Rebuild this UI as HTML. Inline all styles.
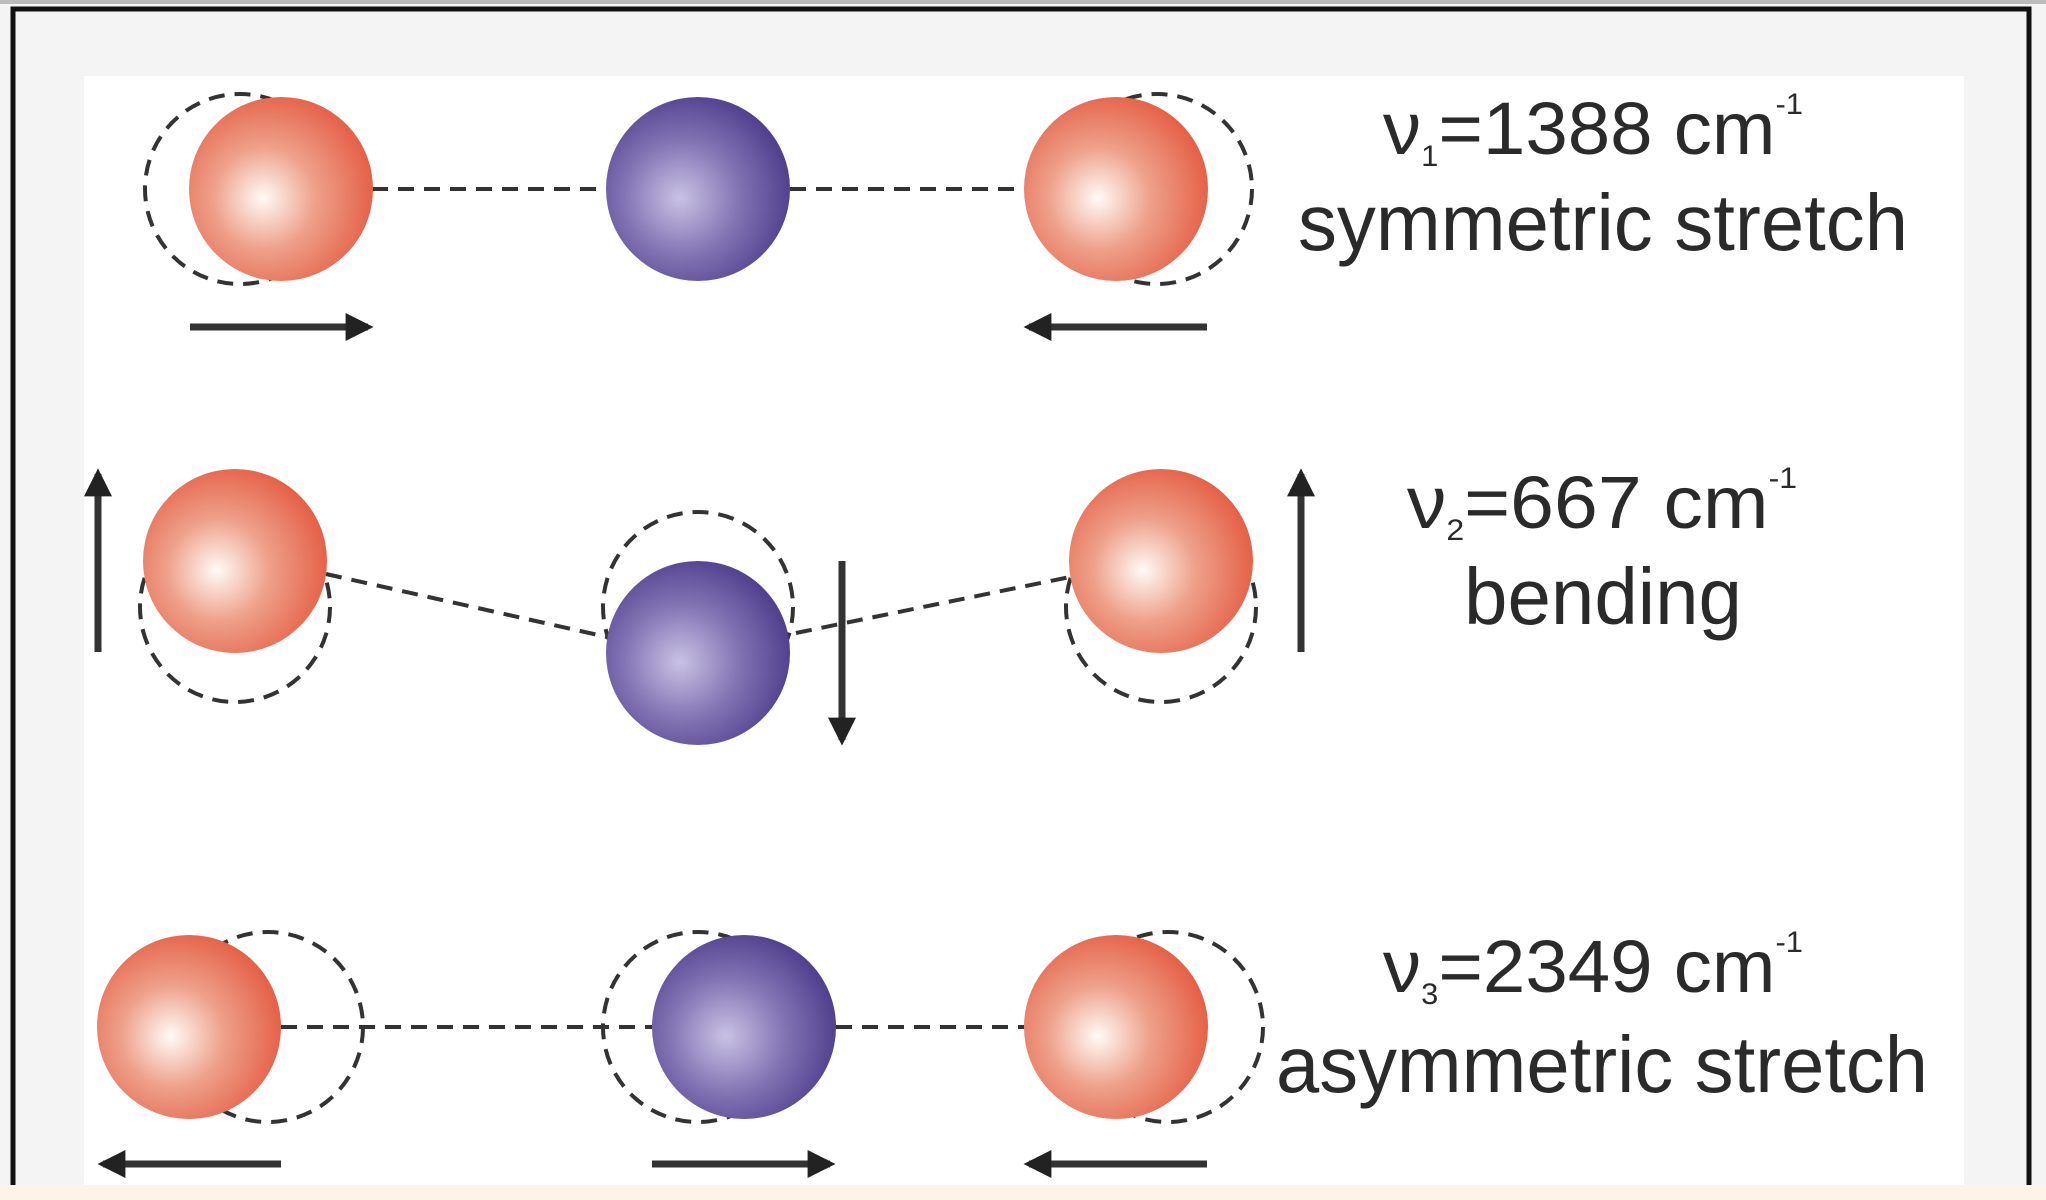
<!DOCTYPE html>
<html><head><meta charset="utf-8"><style>
html,body{margin:0;padding:0;background:#fdf3e6;}
svg{display:block}
text{font-family:"Liberation Sans",sans-serif;fill:#2a2a2a}
</style></head><body>
<svg width="2046" height="1200" viewBox="0 0 2046 1200" xmlns="http://www.w3.org/2000/svg">
<defs>
<radialGradient id="r" cx="0.42" cy="0.55" r="0.62" fx="0.4" fy="0.55">
<stop offset="0" stop-color="#fffaf6"/><stop offset="0.45" stop-color="#eea08a"/><stop offset="1" stop-color="#e45a40"/>
</radialGradient>
<radialGradient id="b" cx="0.42" cy="0.55" r="0.62" fx="0.4" fy="0.55">
<stop offset="0" stop-color="#c9c2e4"/><stop offset="0.5" stop-color="#8374b4"/><stop offset="1" stop-color="#4a3a8a"/>
</radialGradient>
<marker id="ah" viewBox="0 0 10 10" refX="8" refY="5" markerWidth="4" markerHeight="4" orient="auto-start-reverse">
<path d="M0,0 L10,5 L0,10 z" fill="#222"/>
</marker>
</defs>
<rect x="0" y="0" width="2046" height="1185" fill="#f4f4f4"/>
<rect x="0" y="0" width="2046" height="4" fill="#bbb"/>
<rect x="13" y="9" width="2016" height="1180" fill="none" stroke="#111" stroke-width="5"/>
<rect x="84" y="76" width="1880" height="1110" fill="#fff"/>
<rect x="0" y="1185" width="2046" height="15" fill="#fdf3e6"/>

<g stroke="#333" stroke-width="4" fill="none" stroke-dasharray="16,10">
<line x1="372" y1="189" x2="606" y2="189"/>
<line x1="790" y1="189" x2="1024" y2="189"/>
<circle cx="240" cy="189" r="95"/>
<circle cx="1157" cy="189" r="95"/>
<line x1="326" y1="574" x2="607" y2="637"/>
<line x1="796" y1="633" x2="1070" y2="577"/>
<circle cx="235" cy="607" r="95"/>
<circle cx="698" cy="607" r="95"/>
<circle cx="1161" cy="607" r="95"/>
<line x1="281" y1="1027" x2="652" y2="1027"/>
<line x1="836" y1="1027" x2="1024" y2="1027"/>
<circle cx="268" cy="1027" r="95"/>
<circle cx="698" cy="1027" r="95"/>
<circle cx="1168" cy="1027" r="95"/>
</g>

<circle cx="281" cy="189" r="92" fill="url(#r)"/>
<circle cx="698" cy="189" r="92" fill="url(#b)"/>
<circle cx="1116" cy="189" r="92" fill="url(#r)"/>

<circle cx="235" cy="561" r="92" fill="url(#r)"/>
<circle cx="698" cy="653" r="92" fill="url(#b)"/>
<circle cx="1161" cy="561" r="92" fill="url(#r)"/>

<circle cx="189" cy="1027" r="92" fill="url(#r)"/>
<circle cx="744" cy="1027" r="92" fill="url(#b)"/>
<circle cx="1116" cy="1027" r="92" fill="url(#r)"/>

<g stroke="#333" stroke-width="7" marker-end="url(#ah)">
<line x1="190" y1="327" x2="368" y2="327"/>
<line x1="1207" y1="327" x2="1029" y2="327"/>
<line x1="98" y1="652" x2="98" y2="474"/>
<line x1="1301" y1="652" x2="1301" y2="474"/>
<line x1="842" y1="561" x2="842" y2="740"/>
<line x1="281" y1="1164" x2="103" y2="1164"/>
<line x1="652" y1="1164" x2="830" y2="1164"/>
<line x1="1207" y1="1164" x2="1029" y2="1164"/>
</g>

<text x="1383" y="154" font-size="74" textLength="420" lengthAdjust="spacingAndGlyphs">ν<tspan font-size="30" dy="12">1</tspan><tspan dy="-12">=1388 cm</tspan><tspan font-size="30" dy="-40">-1</tspan></text>
<text x="1298" y="250" font-size="80" textLength="610" lengthAdjust="spacingAndGlyphs">symmetric stretch</text>

<text x="1407" y="528" font-size="74" textLength="390" lengthAdjust="spacingAndGlyphs">ν<tspan font-size="30" dy="12">2</tspan><tspan dy="-12">=667 cm</tspan><tspan font-size="30" dy="-40">-1</tspan></text>
<text x="1464" y="624" font-size="80" textLength="278" lengthAdjust="spacingAndGlyphs">bending</text>

<text x="1383" y="992" font-size="74" textLength="420" lengthAdjust="spacingAndGlyphs">ν<tspan font-size="30" dy="12">3</tspan><tspan dy="-12">=2349 cm</tspan><tspan font-size="30" dy="-40">-1</tspan></text>
<text x="1276" y="1092" font-size="80" textLength="652" lengthAdjust="spacingAndGlyphs">asymmetric stretch</text>
</svg>
</body></html>
